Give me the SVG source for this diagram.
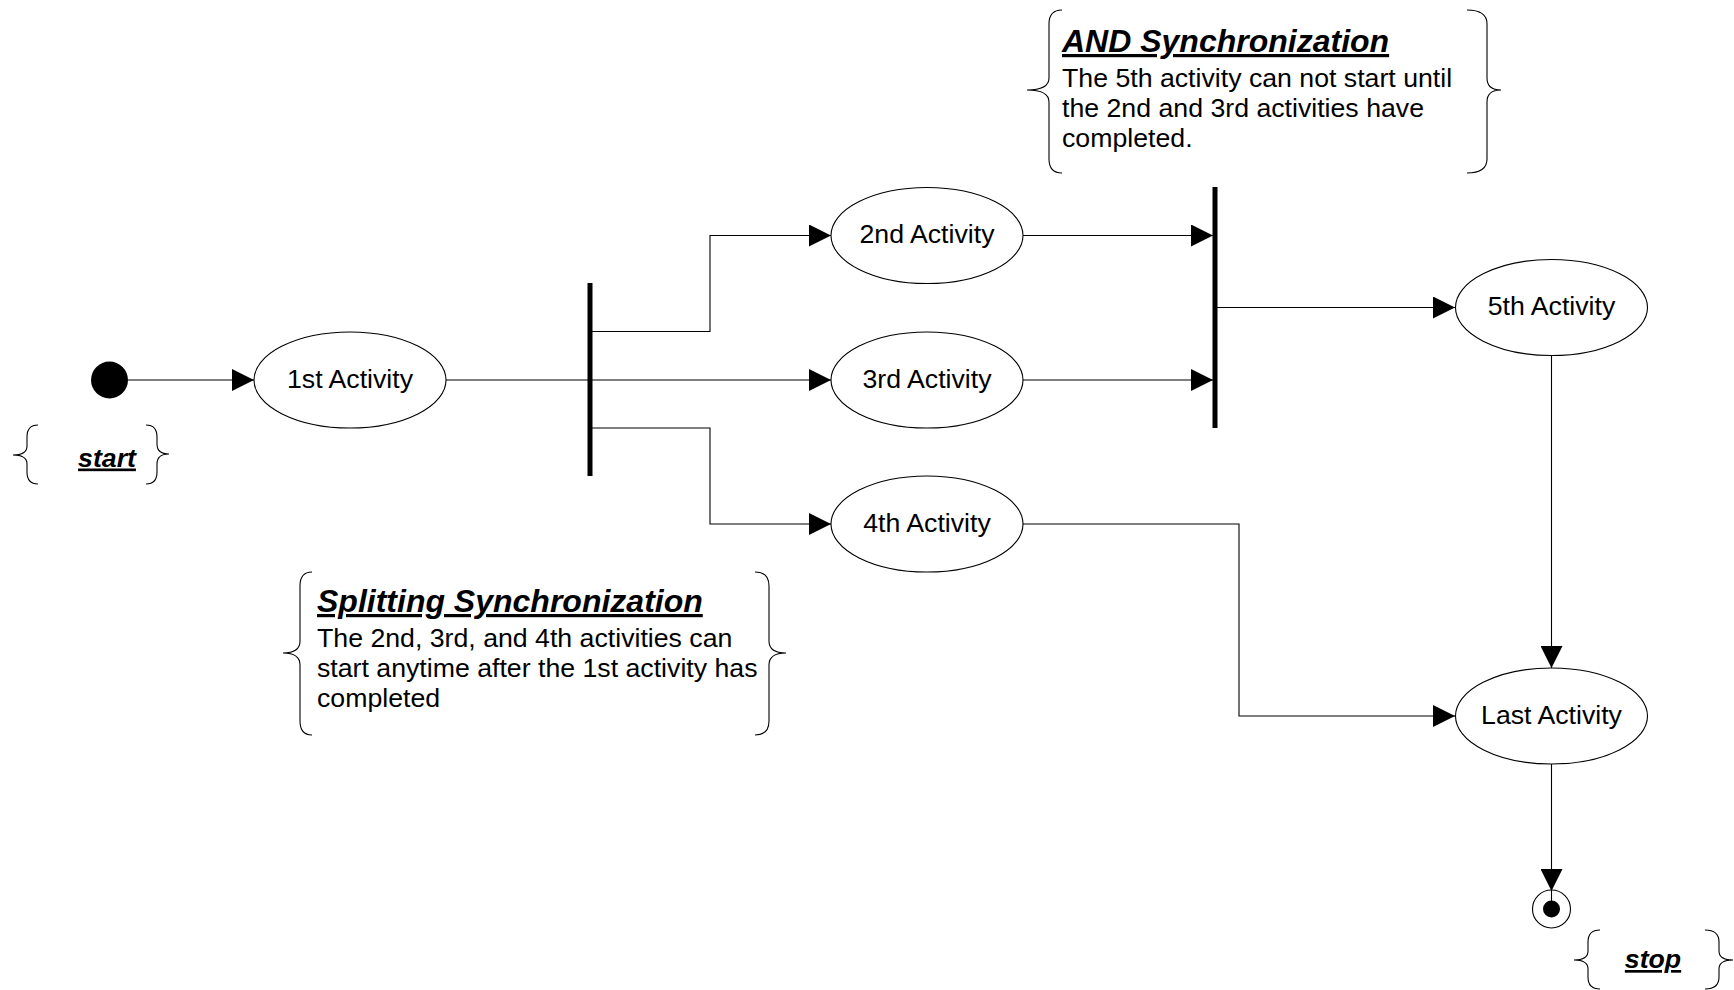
<svg xmlns="http://www.w3.org/2000/svg" width="1734" height="990" viewBox="0 0 1734 990">
  <style>
    text { font-family: "Liberation Sans", Arial, sans-serif; fill: #000; }
    .lbl { font-size: 26.7px; text-anchor: middle; }
    .body { font-size: 26.7px; }
    .head { font-size: 32px; font-weight: bold; font-style: italic; text-decoration: underline; }
    .tag { font-size: 26.7px; font-weight: bold; font-style: italic; text-decoration: underline; text-anchor: middle; }
    .act { fill: #fff; stroke: #000; stroke-width: 1.1; }
    .bar { stroke: #000; stroke-width: 5; }
    .conn { fill: none; stroke: #000; stroke-width: 1.1; marker-end: url(#arrow); }
    .brace { fill: none; stroke: #000; stroke-width: 1.1; }
  </style>
  <defs>
    <marker id="arrow" viewBox="0 0 22 22" refX="22" refY="11" markerWidth="22" markerHeight="22" markerUnits="userSpaceOnUse" orient="auto">
      <path d="M0,0 L22,11 L0,22 z" fill="#000"/>
    </marker>
  </defs>
  <rect width="1734" height="990" fill="#fff"/>

  <!-- connectors -->
  <g id="connectors">
    <path class="conn" d="M128,380 L254,380"/>
    <path class="conn" d="M446,380 L831,380"/>
    <path class="conn" d="M590,331.5 L710,331.5 L710,235.5 L831,235.5"/>
    <path class="conn" d="M590,428 L710,428 L710,524 L831,524"/>
    <path class="conn" d="M1023,235.5 L1213,235.5"/>
    <path class="conn" d="M1023,380 L1213,380"/>
    <path class="conn" d="M1215,307.5 L1455,307.5"/>
    <path class="conn" d="M1551.5,356 L1551.5,668"/>
    <path class="conn" d="M1023,524 L1239,524 L1239,716 L1455,716"/>
    <path class="conn" d="M1551.5,901 L1551.5,891 M1551.5,764 L1551.5,891"/>
  </g>

  <!-- initial state -->
  <g id="start">
    <circle cx="109.5" cy="380" r="18.5" fill="#000"/>
  </g>
  <g id="start-note">
    <path class="brace" d="M38,425 Q27,425 27,437 L27,446 Q27,455 13,455 Q27,455 27,464 L27,472 Q27,484 38,484"/>
    <path class="brace" d="M146,425 Q157,425 157,437 L157,444 Q157,454 169,454 Q157,454 157,464 L157,472 Q157,484 146,484"/>
    <text class="tag" x="107" y="466.5">start</text>
  </g>

  <!-- activities -->
  <g id="act1">
    <ellipse class="act" cx="350" cy="380" rx="96" ry="48"/>
    <text class="lbl" x="350" y="387.5">1st Activity</text>
  </g>
  <g id="act2">
    <ellipse class="act" cx="927" cy="235.5" rx="96" ry="48"/>
    <text class="lbl" x="927" y="243">2nd Activity</text>
  </g>
  <g id="act3">
    <ellipse class="act" cx="927" cy="380" rx="96" ry="48"/>
    <text class="lbl" x="927" y="387.5">3rd Activity</text>
  </g>
  <g id="act4">
    <ellipse class="act" cx="927" cy="524" rx="96" ry="48"/>
    <text class="lbl" x="927" y="531.5">4th Activity</text>
  </g>
  <g id="act5">
    <ellipse class="act" cx="1551.5" cy="307.5" rx="96" ry="48"/>
    <text class="lbl" x="1551.5" y="315">5th Activity</text>
  </g>
  <g id="act-last">
    <ellipse class="act" cx="1551.5" cy="716" rx="96" ry="48"/>
    <text class="lbl" x="1551.5" y="723.5">Last Activity</text>
  </g>

  <!-- fork / join bars -->
  <g id="fork">
    <line class="bar" x1="590" y1="283" x2="590" y2="476"/>
  </g>
  <g id="join">
    <line class="bar" x1="1215" y1="187" x2="1215" y2="428"/>
  </g>

  <!-- final state -->
  <g id="stop">
    <circle cx="1551.5" cy="909" r="19" fill="none" stroke="#000" stroke-width="1.1"/>
    <circle cx="1551.5" cy="909" r="8.5" fill="#000"/>
  </g>
  <g id="stop-note">
    <path class="brace" d="M1600,930 Q1588,930 1588,942 L1588,951 Q1588,960 1574,960 Q1588,960 1588,969 L1588,977 Q1588,989 1600,989"/>
    <path class="brace" d="M1705,930 Q1719,930 1719,942 L1719,951 Q1719,960 1733,960 Q1719,960 1719,969 L1719,977 Q1719,989 1705,989"/>
    <text class="tag" x="1653" y="968">stop</text>
  </g>

  <!-- notes -->
  <g id="and-note">
    <path class="brace" d="M1062,10 Q1049,10 1049,24 L1049,78 Q1049,90 1027,90 Q1049,90 1049,102 L1049,159 Q1049,173 1062,173"/>
    <path class="brace" d="M1467,10 Q1487,10 1487,24 L1487,78 Q1487,90 1501,90 Q1487,90 1487,102 L1487,159 Q1487,173 1467,173"/>
    <text class="head" x="1062" y="52">AND Synchronization</text>
    <text class="body" x="1062" y="87">The 5th activity can not start until</text>
    <text class="body" x="1062" y="117">the 2nd and 3rd activities have</text>
    <text class="body" x="1062" y="147">completed.</text>
  </g>
  <g id="split-note">
    <path class="brace" d="M312,572 Q300,572 300,586 L300,641 Q300,653 283,653 Q300,653 300,665 L300,721 Q300,735 312,735"/>
    <path class="brace" d="M755,572 Q769,572 769,586 L769,641 Q769,653 786,653 Q769,653 769,665 L769,721 Q769,735 755,735"/>
    <text class="head" x="317" y="612">Splitting Synchronization</text>
    <text class="body" x="317" y="647">The 2nd, 3rd, and 4th activities can</text>
    <text class="body" x="317" y="677">start anytime after the 1st activity has</text>
    <text class="body" x="317" y="707">completed</text>
  </g>
</svg>
